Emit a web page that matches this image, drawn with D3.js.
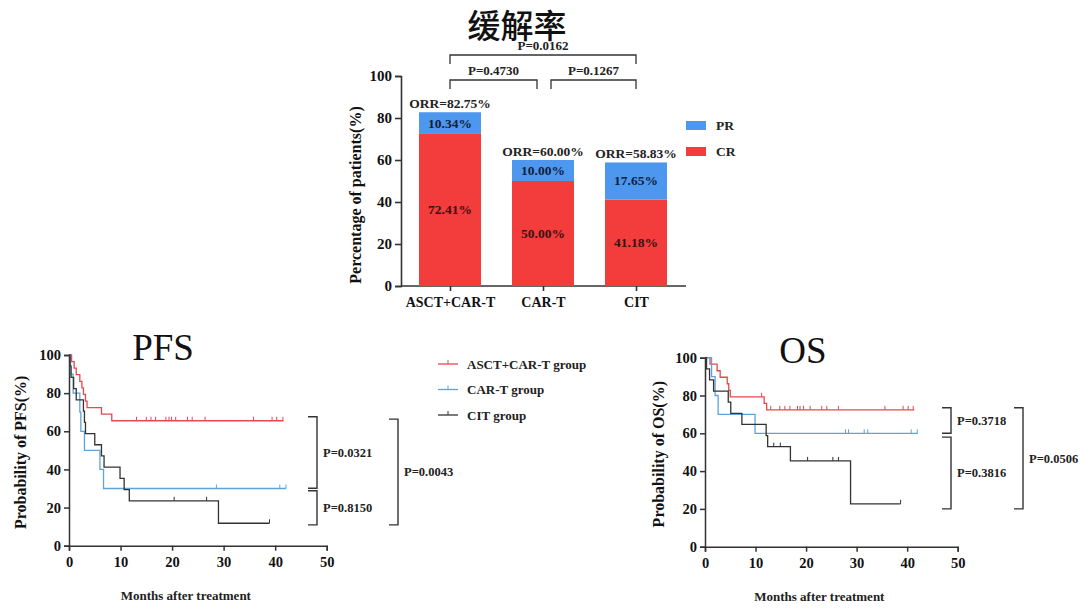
<!DOCTYPE html>
<html>
<head>
<meta charset="utf-8">
<script src="https://cdn.jsdelivr.net/npm/d3@7"></script>
<style>
  body { margin: 0; background: #fff; }
  svg text { font-family: "Liberation Serif", "DejaVu Serif", serif; }
</style>
</head>
<body>
<div class="canvas"></div>
<script>
// ---- data ----
var groups = ["ASCT+CAR-T", "CAR-T", "CIT"];
var crValues = [72.41, 50.00, 41.18];
var prValues = [10.34, 10.00, 17.65];
var orrLabels = ["ORR=82.75%", "ORR=60.00%", "ORR=58.83%"];
var barPvals = [["ASCT+CAR-T", "CIT", "P=0.0162"], ["ASCT+CAR-T", "CAR-T", "P=0.4730"], ["CAR-T", "CIT", "P=0.1267"]];

var kmGroups = ["ASCT+CAR-T group", "CAR-T group", "CIT group"];
var kmColors = ["#e8474c", "#5ea3dc", "#333333"];

// PFS: step points [month, survival%], last entry is end of follow-up
var pfsRed = [[0,100],[0.5,96.55],[1.0,93.1],[1.4,89.66],[2.1,86.21],[2.5,82.76],[2.8,79.31],[3.2,75.86],[3.5,72.41],[6.3,68.97],[8.3,65.52],[41.6,65.52]];
var pfsBlue = [[0,100],[0.3,90],[0.8,80],[2.1,70],[2.3,60],[3.0,50],[6.0,40],[6.7,30],[42.1,30]];
var pfsBlack = [[0,100],[0.2,94.12],[0.4,88.24],[0.9,82.35],[1.4,76.47],[2.8,70.59],[3.0,64.71],[3.2,58.82],[5.0,52.94],[6.3,47.06],[6.8,41.18],[9.9,35.29],[10.7,29.41],[11.7,23.53],[29.0,11.76],[38.9,11.76]];
var pfsRedCens = [13.1,15.0,15.9,16.8,18.8,19.4,19.9,20.7,23.0,23.9,26.4,35.8,39.4,40.3,41.5];
var pfsBlueCens = [28.6,40.9,42.1];
var pfsBlackCens = [20.4,26.7,38.9];
var pfsPvals = [[67.6, 30.1, "P=0.0321", 0], [28.8, 10.9, "P=0.8150", 0], [66.4, 10.9, "P=0.0043", 1]];

// OS
var osRed = [[0,100],[1.0,96.55],[2.4,93.1],[3.0,89.66],[4.4,86.21],[4.7,82.76],[5.0,79.31],[11.7,75.86],[12.2,72.41],[41.4,72.41]];
var osBlue = [[0,100],[1.3,90],[2.0,80],[2.6,70],[9.9,60],[42.1,60]];
var osBlack = [[0,100],[0.3,94.12],[0.9,88.24],[1.7,82.35],[4.6,76.47],[5.1,70.59],[7.3,64.71],[12.1,58.82],[12.4,52.94],[16.9,45.38],[28.8,22.69],[38.7,22.69]];
var osRedCens = [11.2,13.0,14.8,15.8,16.8,18.3,18.8,19.5,20.8,23.1,24.1,26.4,35.6,39.2,40.2,41.2];
var osBlueCens = [27.8,28.4,31.5,32.2,40.8,42.0];
var osBlackCens = [13.6,14.9,20.3,25.3,26.4,38.7];
var osPvals = [[73.5, 60, "P=0.3718", 0], [58, 20, "P=0.3816", 0], [73.5, 20, "P=0.0506", 1]];

var yTicks = [0, 20, 40, 60, 80, 100];
var xTicks = [0, 10, 20, 30, 40, 50];

// ---- svg ----
var svg = d3.select(".canvas").append("svg").attr("width", 1080).attr("height", 612);
var ink = "#333";

// ===== bar chart =====
var bar = svg.append("g");
var bx = d3.scalePoint().domain(groups).range([450, 636]);
var by = d3.scaleLinear().domain([0, 100]).range([286, 76]);
var barW = 62;

bar.append("text").attr("x", 517).attr("y", 38).attr("text-anchor", "middle")
    .style("font-family", "'Noto Sans CJK SC', sans-serif").attr("font-size", "33px")
    .attr("font-weight", 500).attr("fill", "#111")
    .text("缓解率");

// axes
var yAx = bar.append("g").attr("transform", "translate(401,0)")
    .call(d3.axisLeft(by).tickValues(yTicks).tickSize(6).tickPadding(3));
var xAx = bar.append("g").attr("transform", "translate(0,286)")
    .call(d3.axisBottom(bx).tickSize(5).tickPadding(6));
xAx.select(".domain").attr("d", "M401,0H686");
[yAx, xAx].forEach(function(a) {
    a.selectAll("path,line").attr("stroke", ink).attr("stroke-width", 1.6);
    a.selectAll("text").attr("fill", "#111").attr("font-weight", "bold")
        .style("font-family", "'Liberation Serif', serif");
});
yAx.selectAll("text").attr("font-size", "15px");
xAx.selectAll("text").attr("font-size", "14px");

bar.append("text").attr("transform", "translate(361,195) rotate(-90)").attr("text-anchor", "middle")
    .attr("font-size", "16px").attr("font-weight", "bold").attr("fill", "#111")
    .text("Percentage of patients(%)");

groups.forEach(function(g, i) {
    var x0 = bx(g) - barW / 2;
    bar.append("rect").attr("x", x0).attr("y", by(crValues[i])).attr("width", barW)
        .attr("height", by(0) - by(crValues[i])).attr("fill", "#f33c3c");
    bar.append("rect").attr("x", x0).attr("y", by(crValues[i] + prValues[i])).attr("width", barW)
        .attr("height", by(0) - by(prValues[i])).attr("fill", "#4e97ee");
    bar.append("text").attr("x", bx(g)).attr("y", by(crValues[i] / 2) + 4.5).attr("text-anchor", "middle")
        .attr("font-size", "13.5px").attr("font-weight", "bold").attr("fill", "#3a1010")
        .text(crValues[i].toFixed(2) + "%");
    bar.append("text").attr("x", bx(g)).attr("y", by(crValues[i] + prValues[i] / 2) + 4.5).attr("text-anchor", "middle")
        .attr("font-size", "13.5px").attr("font-weight", "bold").attr("fill", "#10203a")
        .text(prValues[i].toFixed(2) + "%");
    bar.append("text").attr("x", bx(g)).attr("y", by(crValues[i] + prValues[i]) - 4).attr("text-anchor", "middle")
        .attr("font-size", "13.5px").attr("font-weight", "bold").attr("fill", "#222")
        .text(orrLabels[i]);
});

// significance brackets
barPvals.forEach(function(p, i) {
    var x1 = bx(p[0]), x2 = bx(p[1]);
    var top = i === 0 ? 55 : 80;
    if (i === 1) x2 -= 6;
    if (i === 2) x1 += 8;
    bar.append("path").attr("d", "M" + x1 + "," + (top + 9) + "V" + top + "H" + x2 + "V" + (top + 9))
        .attr("fill", "none").attr("stroke", ink).attr("stroke-width", 1.3);
    bar.append("text").attr("x", (x1 + x2) / 2).attr("y", top - 5).attr("text-anchor", "middle")
        .attr("font-size", "13px").attr("font-weight", "bold").attr("fill", "#222").text(p[2]);
});

// legend
[["PR", "#4e97ee"], ["CR", "#f33c3c"]].forEach(function(l, i) {
    bar.append("rect").attr("x", 686).attr("y", 121 + i * 26).attr("width", 20).attr("height", 9).attr("fill", l[1]);
    bar.append("text").attr("x", 716).attr("y", 130 + i * 26).attr("font-size", "13.5px")
        .attr("font-weight", "bold").attr("fill", "#222").text(l[0]);
});

// ===== Kaplan-Meier panels =====
function kmPanel(cfg) {
    var g = svg.append("g");
    var x = d3.scaleLinear().domain([0, 50]).range([cfg.x0, cfg.x1]);
    var y = d3.scaleLinear().domain([0, 100]).range([cfg.y0, cfg.y1]);

    var ya = g.append("g").attr("transform", "translate(" + cfg.x0 + ",0)")
        .call(d3.axisLeft(y).tickValues(yTicks).tickSize(5).tickPadding(3));
    var xa = g.append("g").attr("transform", "translate(0," + cfg.y0 + ")")
        .call(d3.axisBottom(x).tickValues(xTicks).tickSize(5).tickPadding(6));
    [ya, xa].forEach(function(a) {
        a.selectAll("path,line").attr("stroke", ink).attr("stroke-width", 1.5);
        a.selectAll("text").attr("fill", "#111").attr("font-size", "14.5px").attr("font-weight", "bold")
            .style("font-family", "'Liberation Serif', serif");
    });

    g.append("text").attr("x", cfg.titleX).attr("y", cfg.y1 + 5).attr("text-anchor", "middle")
        .attr("font-size", "37px").attr("fill", "#111").text(cfg.title);
    g.append("text").attr("x", (cfg.x0 + cfg.x1) / 2 - 12).attr("y", cfg.y0 + 54).attr("text-anchor", "middle")
        .attr("font-size", "13px").attr("font-weight", "bold").attr("fill", "#222").text("Months after treatment");
    g.append("text").attr("transform", "translate(" + cfg.ylabX + "," + ((cfg.y0 + cfg.y1) / 2 + 2) + ") rotate(-90)")
        .attr("text-anchor", "middle").attr("font-size", "16px").attr("font-weight", "bold").attr("fill", "#111")
        .text(cfg.ylab);

    var line = d3.line().x(function(d) { return x(d[0]); }).y(function(d) { return y(d[1]); })
        .curve(d3.curveStepAfter);
    cfg.curves.forEach(function(c, i) {
        g.append("path").attr("d", line(c)).attr("fill", "none")
            .attr("stroke", kmColors[i]).attr("stroke-width", 1.3);
        cfg.cens[i].forEach(function(t) {
            var s = c.filter(function(d) { return d[0] <= t; }).pop()[1];
            g.append("line").attr("x1", x(t)).attr("x2", x(t)).attr("y1", y(s)).attr("y2", y(s) - 4)
                .attr("stroke", kmColors[i]).attr("stroke-width", 1);
        });
    });

    cfg.pvals.forEach(function(p) {
        var bxp = p[3] === 0 ? cfg.br1 : cfg.br2;
        var ya1 = y(p[0]), ya2 = y(p[1]);
        g.append("path").attr("d", "M" + (bxp - 9) + "," + ya1 + "H" + bxp + "V" + ya2 + "H" + (bxp - 9))
            .attr("fill", "none").attr("stroke", ink).attr("stroke-width", 1.4);
        g.append("text").attr("x", bxp + 6).attr("y", (ya1 + ya2) / 2 + 4.5)
            .attr("font-size", "12.5px").attr("font-weight", "bold").attr("fill", "#222").text(p[2]);
    });
    return g;
}

kmPanel({ x0: 69, x1: 326.7, y0: 545.7, y1: 355, title: "PFS", titleX: 163, ylab: "Probability of PFS(%)", ylabX: 26,
    curves: [pfsRed, pfsBlue, pfsBlack], cens: [pfsRedCens, pfsBlueCens, pfsBlackCens],
    pvals: pfsPvals, br1: 317, br2: 398 });
kmPanel({ x0: 705, x1: 957.7, y0: 546.7, y1: 357.7, title: "OS", titleX: 803, ylab: "Probability of OS(%)", ylabX: 664,
    curves: [osRed, osBlue, osBlack], cens: [osRedCens, osBlueCens, osBlackCens],
    pvals: osPvals, br1: 951, br2: 1023 });

// KM legend
kmGroups.forEach(function(name, i) {
    var ly = 364 + i * 25.5;
    svg.append("line").attr("x1", 438).attr("x2", 458).attr("y1", ly).attr("y2", ly)
        .attr("stroke", kmColors[i]).attr("stroke-width", 1.3);
    svg.append("line").attr("x1", 448).attr("x2", 448).attr("y1", ly).attr("y2", ly - 4)
        .attr("stroke", kmColors[i]).attr("stroke-width", 1);
    svg.append("text").attr("x", 467).attr("y", ly + 4.5).attr("font-size", "13px")
        .attr("font-weight", "bold").attr("fill", "#222").text(name);
});
</script>
</body>
</html>
